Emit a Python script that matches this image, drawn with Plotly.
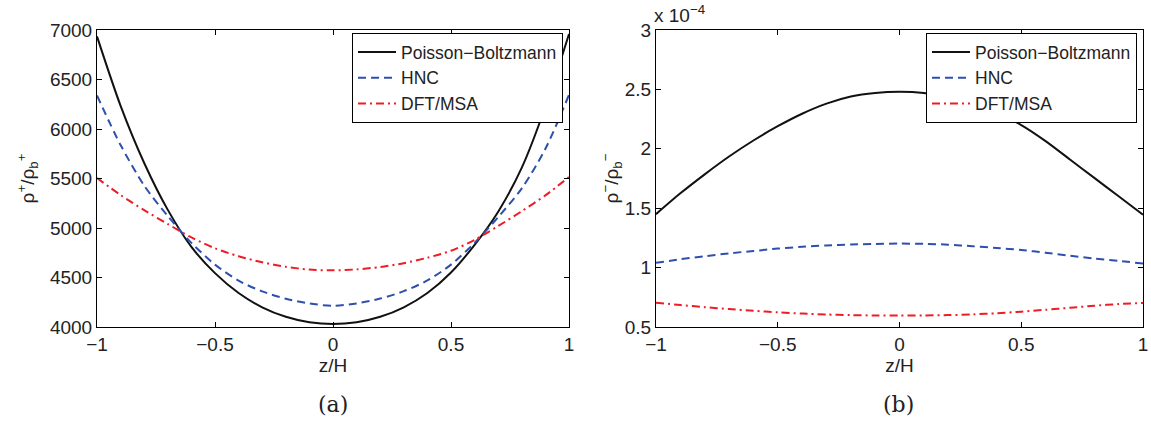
import plotly.graph_objects as go

# ---- data ----
z = [-1.0, -0.9, -0.8, -0.7, -0.6, -0.5, -0.4, -0.3, -0.2, -0.1, 0.0,
     0.1, 0.2, 0.3, 0.4, 0.5, 0.6, 0.7, 0.8, 0.9, 1.0]

# panel (a): rho+/rho_b+
pb_plus = [6935, 6234, 5657, 5183, 4809, 4544, 4343, 4199, 4103, 4048, 4030,
           4048, 4103, 4199, 4343, 4550, 4830, 5165, 5610, 6225, 6960]
hnc_plus = [6338, 5838, 5428, 5120, 4850, 4630, 4468, 4360, 4285, 4237, 4215,
            4238, 4287, 4362, 4470, 4630, 4850, 5110, 5400, 5800, 6345]
dft_plus = [5505, 5333, 5180, 5040, 4905, 4795, 4715, 4654, 4608, 4580, 4572,
            4582, 4606, 4645, 4700, 4770, 4880, 5020, 5170, 5330, 5515]

# panel (b): rho-/rho_b-  (in units of 1e-4)
pb_minus = [1.45, 1.625, 1.785, 1.935, 2.07, 2.19, 2.295, 2.38, 2.44, 2.47, 2.48,
            2.47, 2.435, 2.375, 2.30, 2.20, 2.065, 1.91, 1.755, 1.60, 1.445]
hnc_minus = [1.04, 1.07, 1.095, 1.12, 1.14, 1.16, 1.175, 1.186, 1.194, 1.199, 1.202,
             1.20, 1.193, 1.18, 1.165, 1.148, 1.125, 1.10, 1.077, 1.056, 1.035]
dft_minus = [0.705, 0.685, 0.667, 0.651, 0.637, 0.624, 0.613, 0.605, 0.600, 0.597, 0.596,
             0.597, 0.600, 0.606, 0.616, 0.629, 0.645, 0.662, 0.679, 0.693, 0.703]

series_names = ["Poisson\u2212Boltzmann", "HNC", "DFT/MSA"]
x_ticks = [-1, -0.5, 0, 0.5, 1]
x_ticklabels = ["\u22121", "\u22120.5", "0", "0.5", "1"]
ya_ticks = [4000, 4500, 5000, 5500, 6000, 6500, 7000]
yb_ticks = [0.5, 1, 1.5, 2, 2.5, 3]
yb_ticklabels = ["0.5", "1", "1.5", "2", "2.5", "3"]

colors = ["#111111", "#2f4fae", "#ee1c24"]
dashes = ["solid", "8px,5px", "8px,4px,2px,4px"]

W, H = 1151, 423
def px(x):
    return x / W
def py(y):
    return 1 - y / H

fig = go.Figure()

panel_a = [pb_plus, hnc_plus, dft_plus]
panel_b = [pb_minus, hnc_minus, dft_minus]
for i, (name, vals) in enumerate(zip(series_names, panel_a)):
    fig.add_trace(go.Scatter(x=z, y=vals, mode="lines", name=name,
                             line=dict(color=colors[i], width=2, dash=dashes[i],
                                       shape="spline", smoothing=0.8),
                             xaxis="x", yaxis="y", legend="legend"))
for i, (name, vals) in enumerate(zip(series_names, panel_b)):
    fig.add_trace(go.Scatter(x=z, y=vals, mode="lines", name=name,
                             line=dict(color=colors[i], width=2, dash=dashes[i],
                                       shape="spline", smoothing=0.8),
                             xaxis="x2", yaxis="y2", legend="legend2"))

font = dict(family="Liberation Sans, Arial, sans-serif", size=19, color="#222222")
leg_font = dict(family="Liberation Sans, Arial, sans-serif", size=17.5, color="#222222")
axis_common = dict(showline=True, linecolor="black", linewidth=1, mirror="ticks",
                   ticks="inside", ticklen=5, tickcolor="black", showgrid=False,
                   zeroline=False, tickfont=font, automargin=False)

fig.update_layout(
    width=W, height=H,
    margin=dict(l=0, r=0, t=0, b=0, autoexpand=False),
    paper_bgcolor="white", plot_bgcolor="white",
    font=font,
    xaxis=dict(domain=[px(97), px(569)], range=[-1, 1], tickvals=x_ticks,
               ticktext=x_ticklabels, anchor="y",
               title=dict(text="z/H", font=font, standoff=0), **axis_common),
    yaxis=dict(domain=[py(327), py(30)], range=[4000, 7000], tickvals=ya_ticks,
               anchor="x",
               title=dict(text="\u03c1<sup>+</sup>/\u03c1<sub>b</sub><sup>+</sup>", font=font, standoff=10),
               **axis_common),
    xaxis2=dict(domain=[px(656), px(1143)], range=[-1, 1], tickvals=x_ticks,
                ticktext=x_ticklabels, anchor="y2",
                title=dict(text="z/H", font=font, standoff=0), **axis_common),
    yaxis2=dict(domain=[py(327), py(30)], range=[0.5, 3], tickvals=yb_ticks,
                ticktext=yb_ticklabels, anchor="x2",
                title=dict(text="\u03c1<sup>\u2212</sup>/\u03c1<sub>b</sub><sup>\u2212</sup>", font=font, standoff=1),
                **axis_common),
    legend=dict(x=px(563), xanchor="right", y=py(33), yanchor="top",
                bgcolor="white", bordercolor="black", borderwidth=1,
                font=leg_font, tracegroupgap=0, itemwidth=38),
    legend2=dict(x=px(1137), xanchor="right", y=py(33), yanchor="top",
                 bgcolor="white", bordercolor="black", borderwidth=1,
                 font=leg_font, tracegroupgap=0, itemwidth=38),
    annotations=[
        dict(text="x 10<sup>\u22124</sup>", x=px(652), y=py(28), xref="paper", yref="paper",
             xanchor="left", yanchor="bottom", showarrow=False, font=font),
        dict(text="(a)", x=px(333), y=py(404), xref="paper", yref="paper",
             xanchor="center", yanchor="middle", showarrow=False,
             font=dict(family="DejaVu Serif, Liberation Serif, serif", size=22, color="#222222")),
        dict(text="(b)", x=px(898), y=py(404), xref="paper", yref="paper",
             xanchor="center", yanchor="middle", showarrow=False,
             font=dict(family="DejaVu Serif, Liberation Serif, serif", size=22, color="#222222")),
    ],
)

fig.write_html("out.html", config={"displayModeBar": False},
               post_script="document.body.style.margin='0';document.body.style.overflow='hidden';")
